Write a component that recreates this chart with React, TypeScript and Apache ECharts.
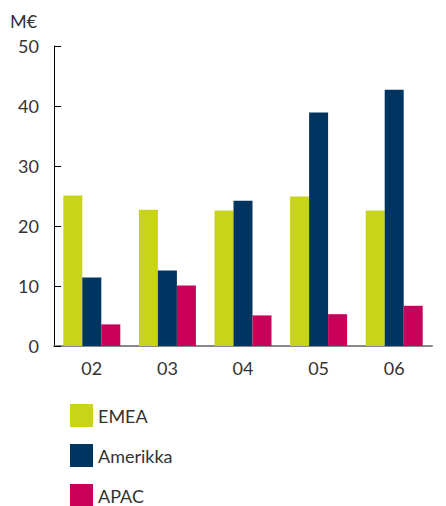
import React, { useEffect, useRef } from "react";
import * as echarts from "echarts";

const categories = ["02", "03", "04", "05", "06"];
const emea = [25.1, 22.7, 22.6, 24.9, 22.6];
const amerikka = [11.4, 12.6, 24.2, 38.9, 42.7];
const apac = [3.6, 10.1, 5.1, 5.3, 6.7];
const seriesNames = ["EMEA", "Amerikka", "APAC"];
const colors = ["#c8d419", "#003461", "#c8005a"];

const FONT = "Lato";

export default function App() {
  const ref = useRef<HTMLDivElement>(null);
  useEffect(() => {
    document.body.style.margin = "0";
    const chart = echarts.init(ref.current!, null, { renderer: "svg" });
    const data = [emea, amerikka, apac];
    chart.setOption({
      animation: false,
      textStyle: { fontFamily: FONT },
      graphic: [
        {
          type: "text",
          left: 10,
          top: 12,
          style: { text: "M€", fontSize: 18, fill: "#333", fontFamily: FONT },
        },
      ],
      legend: {
        orient: "vertical",
        left: 70,
        top: 404,
        height: 110,
        padding: 0,
        itemWidth: 23,
        itemHeight: 23,
        itemGap: 17,
        icon: "rect",
        data: seriesNames,
        textStyle: { fontSize: 18, color: "#333", fontFamily: FONT, padding: [6, 0, 0, 0] },
      },
      grid: { left: 54, right: 14, top: 46, bottom: 160, containLabel: false },
      xAxis: {
        type: "category",
        data: categories,
        axisLine: { lineStyle: { color: "#888", width: 2 } },
        axisTick: { show: false },
        axisLabel: { fontSize: 18, color: "#333", margin: 13, fontFamily: FONT },
      },
      yAxis: {
        type: "value",
        min: 0,
        max: 50,
        interval: 10,
        splitLine: { show: false },
        axisLine: { show: true, lineStyle: { color: "#000", width: 1 } },
        axisTick: { show: true, inside: true, length: 7, lineStyle: { color: "#000" } },
        axisLabel: { fontSize: 18, color: "#333", margin: 15, fontFamily: FONT },
      },
      series: seriesNames.map((name, i) => ({
        name,
        type: "bar",
        data: data[i],
        barWidth: 19,
        barGap: "0%",
        itemStyle: { color: colors[i] },
      })),
    });
    return () => chart.dispose();
  }, []);
  return <div ref={ref} style={{ width: 446, height: 506 }} />;
}
